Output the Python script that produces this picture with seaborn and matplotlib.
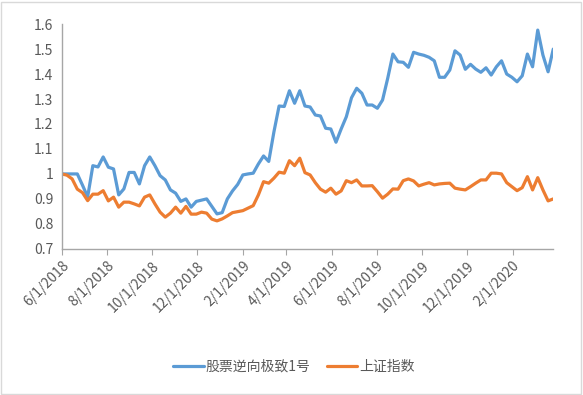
import pandas as pd
import numpy as np
import matplotlib
matplotlib.use('Agg')
import matplotlib.pyplot as plt
import matplotlib.dates as mdates
from matplotlib.patches import Rectangle
import seaborn as sns

# weekly net values
dates = pd.date_range('2018-06-01', periods=96, freq='W-FRI')

fund = [1.0, 1.0, 1.0, 1.0, 0.955, 0.908, 1.033, 1.028, 1.068, 1.027,
        1.02, 0.916, 0.94, 1.006, 1.006, 0.96, 1.033, 1.068, 1.033, 0.993,
        0.976, 0.936, 0.923, 0.89, 0.90, 0.867, 0.89, 0.895, 0.90, 0.87,
        0.84, 0.845, 0.90, 0.932, 0.958, 0.996, 1.0, 1.003, 1.04, 1.072,
        1.05, 1.168, 1.272, 1.27, 1.333, 1.283, 1.333, 1.272, 1.268, 1.236,
        1.232, 1.183, 1.18, 1.127, 1.18, 1.229, 1.305, 1.343, 1.323, 1.276,
        1.276, 1.263, 1.296, 1.383, 1.48, 1.449, 1.447, 1.427, 1.487, 1.48,
        1.475, 1.467, 1.453, 1.387, 1.387, 1.416, 1.493, 1.476, 1.419, 1.439,
        1.42, 1.407, 1.425, 1.396, 1.429, 1.453, 1.40, 1.387, 1.369, 1.393,
        1.48, 1.429, 1.576, 1.476, 1.409, 1.50]

sh_index = [1.0, 0.995, 0.98, 0.939, 0.925, 0.893, 0.919, 0.919, 0.933, 0.892,
            0.907, 0.867, 0.887, 0.887, 0.88, 0.872, 0.907, 0.916, 0.88, 0.847,
            0.827, 0.843, 0.867, 0.843, 0.87, 0.839, 0.839, 0.847, 0.843, 0.819,
            0.812, 0.82, 0.832, 0.845, 0.849, 0.853, 0.863, 0.873, 0.916, 0.969,
            0.963, 0.983, 1.007, 1.003, 1.053, 1.033, 1.063, 1.005, 0.996, 0.965,
            0.939, 0.927, 0.943, 0.919, 0.932, 0.973, 0.965, 0.976, 0.952, 0.952,
            0.953, 0.929, 0.903, 0.919, 0.94, 0.939, 0.973, 0.98, 0.972, 0.952,
            0.959, 0.965, 0.956, 0.96, 0.962, 0.963, 0.943, 0.939, 0.936, 0.949,
            0.963, 0.976, 0.976, 1.003, 1.003, 1.0, 0.965, 0.949, 0.933, 0.945,
            0.989, 0.936, 0.985, 0.936, 0.892, 0.9]

names = ['股票逆向极致1号', '上证指数']
yticks = [0.7, 0.8, 0.9, 1, 1.1, 1.2, 1.3, 1.4, 1.5, 1.6]

df = pd.concat([
    pd.DataFrame({'date': dates, 'value': fund, 'series': names[0]}),
    pd.DataFrame({'date': dates, 'value': sh_index, 'series': names[1]}),
])

sns.set_style('white')
plt.rcParams['font.family'] = ['Noto Sans CJK SC', 'DejaVu Sans']

fig = plt.figure(figsize=(5.83, 3.95), dpi=100)
ax = fig.add_axes([0.106, 0.370, 0.843, 0.569])

sns.lineplot(data=df, x='date', y='value', hue='series', hue_order=names,
             palette=['#5B9BD5', '#ED7D31'], linewidth=2.3, ax=ax)

gray = '#595959'
ax.set_ylim(0.7, 1.6)
ax.set_yticks(yticks)
ax.set_yticklabels([f'{v:g}' for v in yticks], color=gray, fontsize=10)
ax.tick_params(axis='y', length=0, pad=6)

ax.set_xlim(dates[0], dates[-1])
xt = pd.date_range('2018-06-01', '2020-02-01', freq='2MS')
ax.set_xticks(xt)
ax.set_xticklabels([f'{d.month}/{d.day}/{d.year}' for d in xt],
                   rotation=45, ha='right', rotation_mode='anchor',
                   color=gray, fontsize=10)
ax.tick_params(axis='x', direction='out', length=4, color='#A6A6A6', pad=3, bottom=True)

for s in ['top', 'right']:
    ax.spines[s].set_visible(False)
for s in ['left', 'bottom']:
    ax.spines[s].set_color('#A6A6A6')
    ax.spines[s].set_linewidth(1)
ax.set_xlabel('')
ax.set_ylabel('')

leg = ax.legend(loc='center', bbox_to_anchor=(0.504, 0.071), bbox_transform=fig.transFigure,
                ncol=2, frameon=False, fontsize=10, handlelength=2.2,
                columnspacing=1.15, handletextpad=0.15)
for t in leg.get_texts():
    t.set_color(gray)

fig.patches.append(Rectangle((0.002, 0.003), 0.995, 0.993, transform=fig.transFigure,
                             fill=False, edgecolor='#D9D9D9', linewidth=1))

fig.savefig('out.png', dpi=100)
